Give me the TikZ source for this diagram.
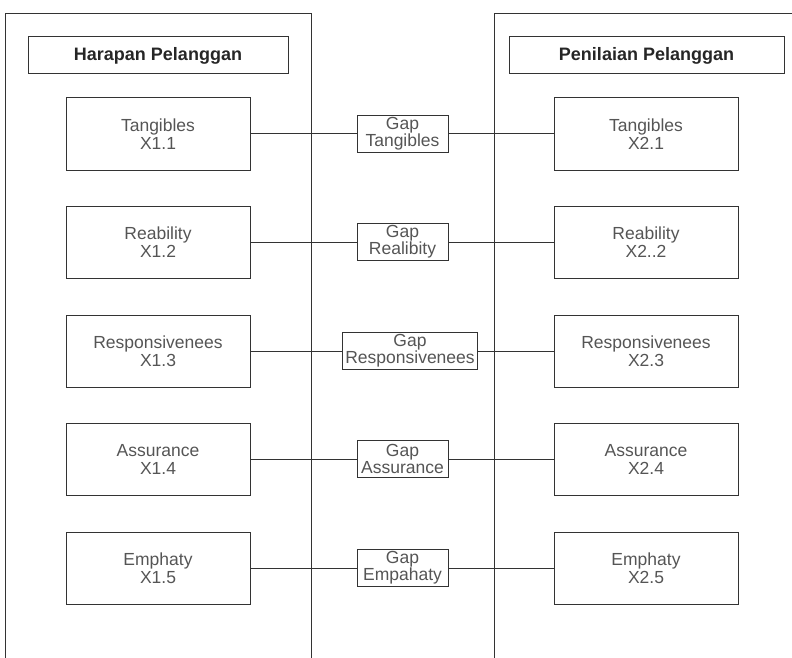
\documentclass[tikz,border=0pt]{standalone}
\usepackage{fontspec}
\setmainfont{Liberation Sans}
\usepackage{tikz}
\definecolor{garis}{HTML}{333333}
\definecolor{teks}{HTML}{555555}
\tikzset{
  judul/.style={
    rectangle,
    draw=garis, line width=1pt,
    minimum height=37pt,
    text=black!85,
    font=\fontsize{18}{20}\selectfont\bfseries},
  dimensi/.style={
    rectangle,
    draw=garis, line width=1pt,
    minimum width=184pt,
    minimum height=72pt,
    align=center,
    text=teks,
    font=\fontsize{17.5}{18}\selectfont},
  gapbox/.style={
    rectangle,
    draw=garis, line width=1pt,
    fill=white,
    minimum width=91pt,
    minimum height=37pt,
    inner xsep=3pt, inner ysep=1pt,
    align=center,
    text=teks,
    font=\fontsize{17.5}{17}\selectfont},
  line/.style={draw=garis, line width=1pt},
}
\begin{document}
\begin{tikzpicture}[x=1pt,y=-1pt]
\useasboundingbox (0,0) rectangle (792,658);
\begin{scope}
\clip (0,0) rectangle (792,658);
% panel kiri dan kanan
\draw[line] (5,670) -- (5,14) -- (311,14) -- (311,670);
\draw[line] (494,670) -- (494,14) -- (800,14);
\end{scope}
\node[judul, minimum width=260pt] (harapan) at (158,55.5) {Harapan Pelanggan};
\node[judul, minimum width=275pt] (penilaian) at (646.5,55.5) {Penilaian Pelanggan};
\foreach \i/\y/\gx/\A/\B/\G in {1/134/402.5/Tangibles/X2.1/Tangibles,
  2/242/402.5/Reability/X2..2/Realibity,
  3/351/410/Responsivenees/X2.3/Responsivenees,
  4/459/402.5/Assurance/X2.4/Assurance,
  5/568/402.5/Emphaty/X2.5/Empahaty}{
  \node[dimensi] (h\i) at (158,\y) {\A\\X1.\i};
  \node[dimensi] (p\i) at (646,\y) {\A\\\B};
  \node[gapbox] (g\i) at (\gx,\y) {Gap\\\G};
  \path[line] (h\i) -- (g\i) -- (p\i);
  }
\end{tikzpicture}
\end{document}
